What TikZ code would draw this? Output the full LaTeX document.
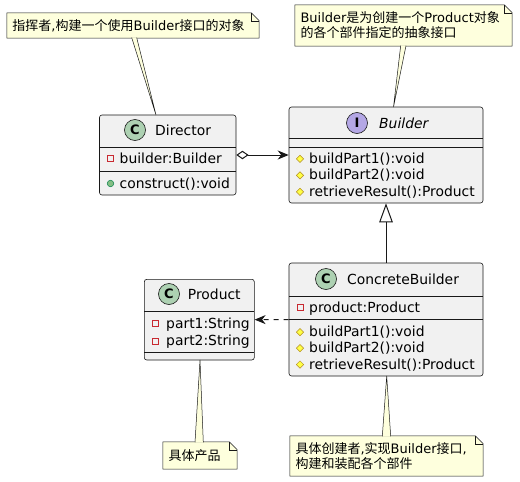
\documentclass[tikz,border=0pt]{standalone}
\usepackage{fontspec}
\setmainfont{DejaVu Sans}
\newfontfamily\cjk{Noto Sans CJK SC}
\usetikzlibrary{arrows.meta,shapes.geometric}
\definecolor{boxfill}{HTML}{F1F1F1}
\definecolor{ink}{HTML}{181818}
\definecolor{notefill}{HTML}{FEFFDD}
\definecolor{cfill}{HTML}{ADD1B2}
\definecolor{ifill}{HTML}{B4A7E5}
\definecolor{privred}{HTML}{C82930}
\definecolor{protfill}{HTML}{FFFF44}
\definecolor{protdraw}{HTML}{B38D22}
\definecolor{pubfill}{HTML}{84BE84}
\definecolor{pubdraw}{HTML}{038048}
\pgfdeclarelayer{bottom}
\pgfdeclarelayer{background}
\pgfsetlayers{bottom,background,main}
\tikzset{
  classbox/.style={draw=ink, fill=boxfill, rounded corners=2.5pt, line width=0.6pt, inner sep=0},
  divider/.style={draw=ink, line width=0.6pt},
  member/.style={anchor=base west, inner sep=0, font=\fontsize{13.9}{16}\selectfont},
  cname/.style={anchor=base west, inner sep=0, font=\fontsize{13.9}{16}\selectfont},
  spot/.style={circle, draw=ink, line width=0.6pt, minimum size=21pt, inner sep=0, font=\bfseries\fontsize{13}{13}\selectfont},
  privicon/.style={draw=privred, line width=0.8pt, minimum size=6pt, inner sep=0},
  pubicon/.style={circle, fill=pubfill, draw=pubdraw, line width=0.5pt, minimum size=6.5pt, inner sep=0},
  proticon/.style={diamond, aspect=1, fill=protfill, draw=protdraw, line width=0.5pt, minimum width=7.5pt, minimum height=7.5pt, inner sep=0},
  notebox/.style={inner xsep=5.5pt, inner ysep=0, align=left, font=\fontsize{13}{15}\selectfont},
  noteshape/.style={fill=notefill, draw=ink, line width=0.5pt},
  wedge/.style={fill=notefill, draw=ink, line width=0.5pt},
  link/.style={draw=ink, line width=1pt},
}
\newcommand{\notepath}[1]{%
  \begin{pgfonlayer}{background}
  \path[noteshape] (#1.north west) -- ([xshift=-8pt]#1.north east) -- ([yshift=-8pt]#1.north east) -- (#1.south east) -- (#1.south west) -- cycle;
  \draw[ink, line width=0.5pt] ([xshift=-8pt]#1.north east) -- ([xshift=-8pt,yshift=-8pt]#1.north east) -- ([yshift=-8pt]#1.north east);
  \end{pgfonlayer}}
\begin{document}
\begin{tikzpicture}[x=1pt,y=-1pt]
\begin{pgfonlayer}{bottom}
\fill[white] (0,0) rectangle (520,482);
\end{pgfonlayer}
\useasboundingbox (0,0) rectangle (520,482);

% ---------- class boxes ----------
\node[classbox, minimum width=136.5pt, minimum height=80pt] (director) at (167.75,155) {};
\node[classbox, minimum width=194pt, minimum height=96pt] (builder) at (386,155) {};
\node[classbox, minimum width=194pt, minimum height=113pt] (concrete) at (386,319.5) {};
\node[classbox, minimum width=110pt, minimum height=80.7pt] (product) at (199.3,319.65) {};

% dividers
\draw[divider] (99.5,147) -- (236,147);
\draw[divider] (99.5,171) -- (236,171);
\draw[divider] (289,138) -- (483,138);
\draw[divider] (289,147) -- (483,147);
\draw[divider] (289,296) -- (483,296);
\draw[divider] (289,319) -- (483,319);
\draw[divider] (144.3,311.7) -- (254.3,311.7);
\draw[divider] (144.3,352.7) -- (254.3,352.7);

% headers
\node[spot, fill=cfill] (dspot) at (135,130) {C};
\node[cname] (dname) at (155,135) {Director};
\node[spot, fill=ifill] (bspot) at (357,123) {I};
\node[cname] (bname) at (379,128) {\itshape Builder};
\node[spot, fill=cfill] (cspot) at (326,279) {C};
\node[cname] (cname) at (347,284) {ConcreteBuilder};
\node[spot, fill=cfill] (pspot) at (169,294) {C};
\node[cname] (pname) at (187.7,299) {Product};

% Director members
\node[privicon] (di1) at (110.5,158.5) {};
\node[member] (dm1) at (119.5,163) {builder:Builder};
\node[pubicon] (di2) at (110.5,183.5) {};
\node[member] (dm2) at (119.5,188) {construct():void};

% Builder members
\node[proticon] (bi1) at (300,158.8) {};
\node[member] (bm1) at (309,163.3) {buildPart1():void};
\node[proticon] (bi2) at (300,175.3) {};
\node[member] (bm2) at (309,179.8) {buildPart2():void};
\node[proticon] (bi3) at (300,191.8) {};
\node[member] (bm3) at (309,196.3) {retrieveResult():Product};

% ConcreteBuilder members
\node[privicon] (ci0) at (300,307.5) {};
\node[member] (cm0) at (309,312) {product:Product};
\node[proticon] (ci1) at (300,332.2) {};
\node[member] (cm1) at (309,336.7) {buildPart1():void};
\node[proticon] (ci2) at (300,348.2) {};
\node[member] (cm2) at (309,352.7) {buildPart2():void};
\node[proticon] (ci3) at (300,364.5) {};
\node[member] (cm3) at (309,369) {retrieveResult():Product};

% Product members
\node[privicon] (pi1) at (155,323.5) {};
\node[member] (pm1) at (166,328) {part1:String};
\node[privicon] (pi2) at (155,341.2) {};
\node[member] (pm2) at (166,345.7) {part2:String};

% ---------- relations ----------
\draw[link, {Diamond[open,length=12.3pt,width=8.5pt]}-{Stealth[length=11pt,width=9pt,inset=3.5pt]}]
  (director.east) -- (builder.west);
\draw[link, -{Triangle[open,fill=white,length=19pt,width=13.5pt]}]
  (concrete.north) -- (builder.south);
\draw[link, dash pattern=on 5pt off 5pt, -{Stealth[length=11pt,width=9pt,inset=3.5pt]}]
  (concrete.west) -- (product.east);

% ---------- notes ----------
\node[notebox, minimum width=252pt, minimum height=25pt, text width=241pt] (note1) at (133,25.5)
  {{\cjk 指挥者},{\cjk 构建一个使用}Builder{\cjk 接口的对象}};
\notepath{note1}
\node[notebox, minimum width=217pt, minimum height=41pt, text width=206pt] (note2) at (403.5,25.5)
  {Builder{\cjk 是为创建一个}Product{\cjk 对象}\\{\cjk 的各个部件指定的抽象接口}};
\notepath{note2}
\node[notebox, minimum width=74pt, minimum height=27pt, text width=63pt] (note3) at (200,455.5)
  {{\cjk 具体产品}};
\notepath{note3}
\node[notebox, minimum width=193pt, minimum height=40pt, text width=182pt] (note4) at (386.5,456)
  {{\cjk 具体创建者},{\cjk 实现}Builder{\cjk 接口},\\{\cjk 构建和装配各个部件}};
\notepath{note4}

% note connectors (wedges)
\coordinate (w1a) at (131.7,37.6);
\coordinate (w1b) at (136.7,37.6);
\coordinate (w1t) at (156,115);
\fill[notefill] (w1a) -- (w1t) -- (w1b) -- cycle;
\draw[ink, line width=0.5pt] (w1a) -- (w1t) -- (w1b);

\coordinate (w2a) at (400.7,45.6);
\coordinate (w2b) at (406,45.6);
\coordinate (w2t) at (393.5,107);
\fill[notefill] (w2a) -- (w2t) -- (w2b) -- cycle;
\draw[ink, line width=0.5pt] (w2a) -- (w2t) -- (w2b);

\coordinate (w3a) at (195,442.4);
\coordinate (w3b) at (203.3,442.4);
\coordinate (w3t) at (200,360);
\fill[notefill] (w3a) -- (w3t) -- (w3b) -- cycle;
\draw[ink, line width=0.5pt] (w3a) -- (w3t) -- (w3b);

\coordinate (w4a) at (382.3,436.4);
\coordinate (w4b) at (390.7,436.4);
\coordinate (w4t) at (386.7,376);
\fill[notefill] (w4a) -- (w4t) -- (w4b) -- cycle;
\draw[ink, line width=0.5pt] (w4a) -- (w4t) -- (w4b);
\end{tikzpicture}
\end{document}
